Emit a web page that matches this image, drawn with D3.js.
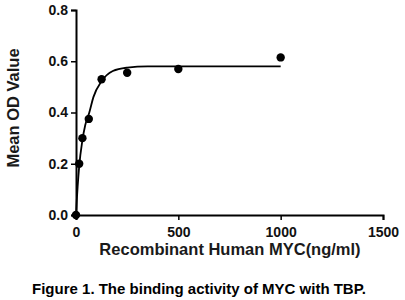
<!DOCTYPE html>
<meta charset="utf-8">
<style>
  body { margin: 0; background: #fff; }
  .tick text { font: bold 14px "Liberation Sans", Arial, sans-serif; fill: #111; }
  .title { font: bold 16.5px "Liberation Sans", Arial, sans-serif; fill: #1a1a1a; }
  .caption { font: bold 15px "Liberation Sans", Arial, sans-serif; fill: #000; }
</style>
<script src="https://d3js.org/d3.v7.min.js"></script>
<div id="chart"></div>
<script>
  // measured points (ng/ml, OD)
  var conc = [0, 15.6, 31.25, 62.5, 125, 250, 500, 1000];
  var od = [0, 0.20, 0.30, 0.375, 0.53, 0.555, 0.57, 0.615];

  // fitted curve
  var fitX = [0, 4, 8, 15.6, 31, 45, 65, 85, 125, 180, 250, 350, 1000];
  var fitY = [0, 0.06, 0.11, 0.19, 0.29, 0.35, 0.40, 0.46, 0.522, 0.562, 0.575, 0.58, 0.58];

  var xTicks = [0, 500, 1000, 1500];
  var yTicks = [0, 0.2, 0.4, 0.6, 0.8];

  var width = 405, height = 300;

  var svg = d3.select("#chart").append("svg")
    .attr("width", width)
    .attr("height", height);

  var x = d3.scaleLinear().domain([0, 1500]).range([76, 383]);
  var y = d3.scaleLinear().domain([0, 0.8]).range([215, 10]);

  // axes
  svg.append("g")
    .attr("transform", "translate(0," + y(0) + ")")
    .call(d3.axisBottom(x).tickValues(xTicks).tickFormat(d3.format("d")).tickSize(5).tickPadding(7))
    .call(function(g) {
      g.select(".domain").attr("stroke", "#000").attr("stroke-width", 2);
      g.selectAll(".tick line").attr("stroke", "#000").attr("stroke-width", 1.5);
    });

  svg.append("g")
    .attr("transform", "translate(" + x(0) + ",0)")
    .call(d3.axisLeft(y).tickValues(yTicks).tickFormat(d3.format(".1f")).tickSize(5).tickPadding(3))
    .call(function(g) {
      g.select(".domain").attr("stroke", "#000").attr("stroke-width", 2);
      g.selectAll(".tick line").attr("stroke", "#000").attr("stroke-width", 1.5);
    });

  // fit line
  var line = d3.line()
    .x(function(d, i) { return x(fitX[i]); })
    .y(function(d) { return y(d); })
    .curve(d3.curveMonotoneX);

  svg.append("path")
    .datum(fitY)
    .attr("fill", "none")
    .attr("stroke", "#000")
    .attr("stroke-width", 1.8)
    .attr("d", line);

  // points
  svg.selectAll("circle.pt")
    .data(od)
    .enter().append("circle")
      .attr("class", "pt")
      .attr("cx", function(d, i) { return x(conc[i]); })
      .attr("cy", function(d) { return y(d); })
      .attr("r", 4.2)
      .attr("fill", "#000");

  // titles
  svg.append("text")
    .attr("class", "title")
    .attr("text-anchor", "middle")
    .attr("transform", "translate(19,108) rotate(-90)")
    .text("Mean OD Value");

  svg.append("text")
    .attr("class", "title")
    .attr("text-anchor", "middle")
    .attr("x", 230)
    .attr("y", 255)
    .text("Recombinant Human MYC(ng/ml)");

  svg.append("text")
    .attr("class", "caption")
    .attr("text-anchor", "middle")
    .attr("x", 199)
    .attr("y", 294)
    .text("Figure 1. The binding activity of MYC with TBP.");
</script>
